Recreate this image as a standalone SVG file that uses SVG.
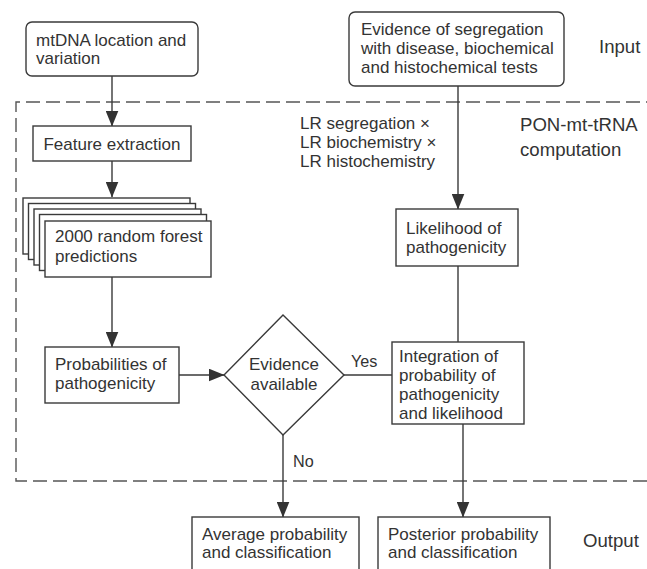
<svg xmlns="http://www.w3.org/2000/svg" width="647" height="569" viewBox="0 0 647 569">
<style>
text{font-family:"Liberation Sans",Arial,sans-serif;font-size:17px;fill:#333}
.l{font-size:18.6px}
.s{font-size:16.2px}
.b{fill:#fff;stroke:#3a3a3a;stroke-width:1.4}
.c{fill:none;stroke:#3a3a3a;stroke-width:1.4}
.d{fill:none;stroke:#555;stroke-width:1.4;stroke-dasharray:14 6}
.m{text-anchor:middle}
</style>
<defs>
<marker id="ah" markerWidth="16" markerHeight="13" refX="15.5" refY="6.5" viewBox="0 0 16 13" orient="auto" markerUnits="userSpaceOnUse">
<path d="M0,0 L16,6.5 L0,13 Z" fill="#333"/>
</marker>
</defs>
<rect width="647" height="569" fill="#fff"/>
<path class="d" d="M660,102 H16 V481 H660"/>
<g id="connectors">
<line class="c" x1="112" y1="76" x2="112" y2="126" marker-end="url(#ah)"/>
<line class="c" x1="112" y1="161" x2="112" y2="197" marker-end="url(#ah)"/>
<line class="c" x1="112" y1="277" x2="112" y2="347" marker-end="url(#ah)"/>
<line class="c" x1="179" y1="375" x2="224" y2="375" marker-end="url(#ah)"/>
<line class="c" x1="458" y1="86" x2="458" y2="209" marker-end="url(#ah)"/>
<line class="c" x1="458" y1="266" x2="458" y2="342"/>
<line class="c" x1="344" y1="375" x2="392" y2="375"/>
<line class="c" x1="283" y1="435" x2="283" y2="517" marker-end="url(#ah)"/>
<line class="c" x1="463" y1="424" x2="463" y2="517" marker-end="url(#ah)"/>
<text class="s" x="351" y="367">Yes</text>
<text class="s" x="293" y="467">No</text>
</g>
<g id="mtdna">
<rect class="b" x="26" y="22" width="172" height="54" rx="6"/>
<text x="36" y="46">mtDNA location and</text>
<text x="36" y="64">variation</text>
</g>
<g id="evidence">
<rect class="b" x="349" y="12" width="215" height="74" rx="6"/>
<text x="361" y="35">Evidence of segregation</text>
<text x="361" y="54">with disease, biochemical</text>
<text x="361" y="73">and histochemical tests</text>
</g>
<g id="labels">
<text class="l" x="599" y="53">Input</text>
<text class="l" x="520" y="131">PON-mt-tRNA</text>
<text class="l" x="520" y="156">computation</text>
<text class="l" x="583" y="547">Output</text>
<text x="300" y="129">LR segregation ×</text>
<text x="300" y="148">LR biochemistry ×</text>
<text x="300" y="167">LR histochemistry</text>
</g>
<g id="feature">
<rect class="b" x="33" y="126" width="158" height="35"/>
<text class="m" x="112" y="150">Feature extraction</text>
</g>
<g id="forest">
<rect class="b" x="23" y="198" width="167" height="56"/>
<rect class="b" x="28.5" y="203.5" width="167" height="56"/>
<rect class="b" x="34" y="209" width="167" height="56"/>
<rect class="b" x="39.5" y="214.5" width="167" height="56"/>
<rect class="b" x="45" y="221" width="166" height="56"/>
<text x="55" y="242">2000 random forest</text>
<text x="55" y="262">predictions</text>
</g>
<g id="probabilities">
<rect class="b" x="45" y="347" width="134" height="56"/>
<text x="55" y="370">Probabilities of</text>
<text x="55" y="389">pathogenicity</text>
</g>
<g id="decision">
<path class="b" d="M283,315 L344,375 L283,435 L224,375 Z"/>
<text class="m" x="284" y="370">Evidence</text>
<text class="m" x="284" y="390">available</text>
</g>
<g id="likelihood">
<rect class="b" x="396" y="209" width="122" height="57"/>
<text x="406" y="234">Likelihood of</text>
<text x="406" y="253">pathogenicity</text>
</g>
<g id="integration">
<rect class="b" x="392" y="342" width="132" height="82"/>
<text x="399" y="362">Integration of</text>
<text x="399" y="381">probability of</text>
<text x="399" y="400">pathogenicity</text>
<text x="399" y="419">and likelihood</text>
</g>
<g id="average">
<rect class="b" x="192" y="517" width="167" height="70"/>
<text x="202" y="540">Average probability</text>
<text x="202" y="558">and classification</text>
</g>
<g id="posterior">
<rect class="b" x="378" y="517" width="172" height="70"/>
<text x="388" y="540">Posterior probability</text>
<text x="388" y="558">and classification</text>
</g>
</svg>
